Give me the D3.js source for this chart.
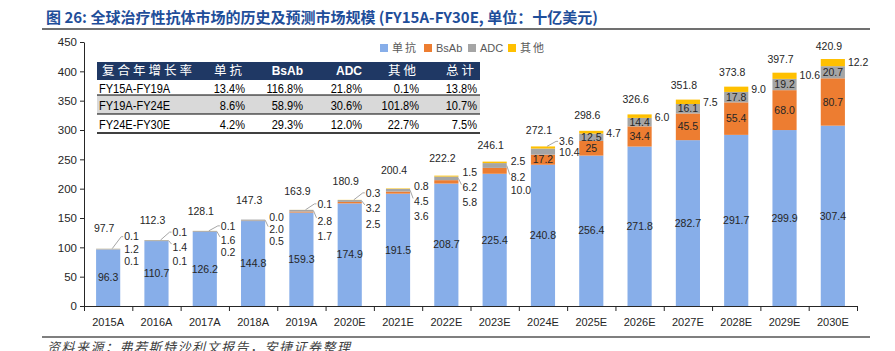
<!DOCTYPE html>
<html>
<head>
<meta charset="utf-8">
<script src="https://cdn.jsdelivr.net/npm/d3@7"></script>
<style>
  body { margin: 0; background: #fff; }
  svg { display: block; }
</style>
</head>
<body>
<div id="chart"></div>
<script>
// Data (values kept as printed so labels match the source)
const years = ["2015A", "2016A", "2017A", "2018A", "2019A", "2020E", "2021E", "2022E",
  "2023E", "2024E", "2025E", "2026E", "2027E", "2028E", "2029E", "2030E"];
const mab = ["96.3", "110.7", "126.2", "144.8", "159.3", "174.9", "191.5", "208.7",
  "225.4", "240.8", "256.4", "271.8", "282.7", "291.7", "299.9", "307.4"];
const bsab = ["0.1", "0.1", "0.2", "0.5", "1.7", "2.5", "3.6", "5.8",
  "10.0", "17.2", "25", "34.4", "45.5", "55.4", "68.0", "80.7"];
const adc = ["1.2", "1.4", "1.6", "2.0", "2.8", "3.2", "4.5", "6.2",
  "8.2", "10.4", "12.5", "14.4", "16.1", "17.8", "19.2", "20.7"];
const other = ["0.1", "0.1", "0.1", "0.0", "0.1", "0.3", "0.8", "1.5",
  "2.5", "3.6", "4.7", "6.0", "7.5", "9.0", "10.6", "12.2"];
const totals = ["97.7", "112.3", "128.1", "147.3", "163.9", "180.9", "200.4", "222.2",
  "246.1", "272.1", "298.6", "326.6", "351.8", "373.8", "397.7", "420.9"];

const seriesKeys = ["mab", "bsab", "adc", "other"];
const seriesNames = ["单抗", "BsAb", "ADC", "其他"];
const seriesColors = ["#87aee9", "#ed7d31", "#a5a5a5", "#ffc000"];
const yTicks = [0, 50, 100, 150, 200, 250, 300, 350, 400, 450];

// CAGR table
const cagrHeader = ["复合年增长率", "单抗", "BsAb", "ADC", "其他", "总计"];
const cagrPeriods = ["FY15A-FY19A", "FY19A-FY24E", "FY24E-FY30E"];
const cagrMab = ["13.4%", "8.6%", "4.2%"];
const cagrBsab = ["116.8%", "58.9%", "29.3%"];
const cagrAdc = ["21.8%", "30.6%", "12.0%"];
const cagrOther = ["0.1%", "101.8%", "22.7%"];
const cagrTotal = ["13.8%", "10.7%", "7.5%"];

// label placement for the small segments of early bars (offset from bar top)
const sideOffsets = [
  [-12, 1, 13], [-8, 7, 21], [-5, 9, 21], [-2, 10, 22], [-6, 11, 26],
  [-7, 8, 24], [-2, 13, 28], [-3, 12, 27], [0, 16, 29], [-5, 6, null]
];

const W = 895, H = 351;
const font = "'Liberation Sans', Arial, sans-serif";
const cjk = "'Noto Sans CJK SC', 'Liberation Sans', sans-serif";
const textColor = "#262626";

const svg = d3.select("#chart").append("svg")
  .attr("width", W).attr("height", H);

// Title
svg.append("text")
  .attr("x", 46).attr("y", 23)
  .style("font-family", cjk)
  .style("font-size", "15px")
  .style("font-weight", "700")
  .style("fill", "#1f4e9a")
  .text("图 26: 全球治疗性抗体市场的历史及预测市场规模 (FY15A-FY30E, 单位：十亿美元)");

svg.append("line")
  .attr("x1", 42).attr("x2", 870).attr("y1", 29).attr("y2", 29)
  .attr("stroke", "#404040").attr("stroke-width", 1.5);

// Scales
const x = d3.scaleBand().domain(years).range([84, 857])
  .paddingInner(0.5).paddingOuter(0.25);
const y = d3.scaleLinear().domain([0, 450]).range([306, 42]);
const bound = d3.scaleLinear().domain([0, years.length]).range([84, 857]);

const rows = years.map((yr, i) => ({
  year: yr, mab: +mab[i], bsab: +bsab[i], adc: +adc[i], other: +other[i]
}));
const stacked = d3.stack().keys(seriesKeys)(rows);

// Bars
svg.append("g").selectAll("g")
  .data(stacked)
  .join("g")
  .attr("fill", (d, i) => seriesColors[i])
  .selectAll("rect")
  .data(d => d)
  .join("rect")
  .attr("x", d => x(d.data.year))
  .attr("width", x.bandwidth())
  .attr("y", d => y(d[1]))
  .attr("height", d => Math.max(0, y(d[0]) - y(d[1])));

// Y axis
const yAxis = svg.append("g")
  .attr("transform", "translate(84,0)")
  .call(d3.axisLeft(y).tickValues(yTicks).tickSize(4).tickSizeOuter(0));
yAxis.select(".domain").attr("stroke", "#262626");
yAxis.selectAll(".tick line").attr("stroke", "#262626");
yAxis.selectAll("text")
  .style("font-family", font).style("font-size", "11.5px").style("fill", textColor);

// X axis: boundary ticks + labels
const xAxis = svg.append("g")
  .attr("transform", "translate(0,306)")
  .call(d3.axisBottom(bound).tickValues(d3.range(years.length + 1))
    .tickFormat("").tickSize(5).tickSizeOuter(0));
xAxis.select(".domain").attr("stroke", "#262626");
xAxis.selectAll(".tick line").attr("stroke", "#262626");

const xLabels = svg.append("g")
  .attr("transform", "translate(0,306)")
  .call(d3.axisBottom(x).tickSize(0).tickPadding(12));
xLabels.select(".domain").remove();
xLabels.selectAll("text")
  .style("font-family", font).style("font-size", "11px").style("fill", textColor);

// Labels
const labels = svg.append("g")
  .style("font-family", font)
  .style("font-size", "10.5px")
  .style("fill", textColor);
const leaders = svg.append("g")
  .attr("fill", "none").attr("stroke", "#a6a6a6").attr("stroke-width", 1);

function addLabel(tx, ty, str, anchor) {
  labels.append("text")
    .attr("x", tx).attr("y", ty).attr("dy", "0.35em")
    .attr("text-anchor", anchor)
    .text(str);
}

years.forEach((yr, i) => {
  const cx = x(yr) + x.bandwidth() / 2;
  const right = x(yr) + x.bandwidth();
  const tot = +totals[i];
  const top = y(tot);
  const r = rows[i];

  // total above bar
  const off = 20 - 7 * (tot - 97) / (421 - 97);
  addLabel(cx - 4, top - off, totals[i], "middle");

  // mAb inside
  addLabel(cx, (y(0) + y(r.mab)) / 2, mab[i], "middle");

  const lx = right + 4;
  if (i < sideOffsets.length) {
    const [oOff, aOff, bOff] = sideOffsets[i];
    // other
    const oy = top + oOff;
    addLabel(lx, oy, other[i], "start");
    if (oy < top - 3) {
      leaders.append("polyline")
        .attr("points", [[cx + 4, top], [right + 1, oy], [lx - 1, oy]].map(p => p.join(",")).join(" "));
    }
    // ADC
    const ay = top + aOff;
    const aMid = (y(r.mab + r.bsab) + y(r.mab + r.bsab + r.adc)) / 2;
    addLabel(lx, ay, adc[i], "start");
    if (ay - aMid > 6) {
      leaders.append("line")
        .attr("x1", right).attr("y1", aMid)
        .attr("x2", lx - 1).attr("y2", ay - 3);
    }
    // BsAb
    if (bOff !== null) {
      addLabel(lx, top + bOff, bsab[i], "start");
    } else {
      addLabel(cx, (y(r.mab) + y(r.mab + r.bsab)) / 2, bsab[i], "middle");
    }
  } else {
    addLabel(cx, (y(r.mab) + y(r.mab + r.bsab)) / 2, bsab[i], "middle");
    addLabel(cx, (y(r.mab + r.bsab) + y(r.mab + r.bsab + r.adc)) / 2, adc[i], "middle");
    addLabel(right + 3, top + 3, other[i], "start");
  }
});

// Legend
const legendX = [380, 424, 468, 508];
const legend = svg.append("g");
seriesNames.forEach((name, i) => {
  legend.append("rect")
    .attr("x", legendX[i]).attr("y", 44)
    .attr("width", 8).attr("height", 8)
    .attr("fill", seriesColors[i]);
  legend.append("text")
    .attr("x", legendX[i] + 12).attr("y", 48).attr("dy", "0.35em")
    .style("font-family", i === 0 || i === 3 ? cjk : font)
    .style("font-size", "11px")
    .style("letter-spacing", i === 0 || i === 3 ? "2px" : "0px")
    .style("fill", "#595959")
    .text(name);
});

// CAGR table
const tbl = svg.append("g");
const tLeft = 97, tRight = 480;
const colRight = [245, 303, 362, 419, 477];
tbl.append("rect")
  .attr("x", tLeft).attr("y", 62).attr("width", tRight - tLeft).attr("height", 18)
  .attr("fill", "#1f3864");
tbl.append("rect")
  .attr("x", tLeft).attr("y", 95).attr("width", tRight - tLeft).attr("height", 19)
  .attr("fill", "#d9d9d9");
[[95, 1], [114, 1], [133, 1.5]].forEach(([ly, w]) => {
  tbl.append("line")
    .attr("x1", tLeft).attr("x2", tRight).attr("y1", ly).attr("y2", ly)
    .attr("stroke", "#000").attr("stroke-width", w);
});

cagrHeader.forEach((h, j) => {
  const isCjk = /[\u4e00-\u9fff]/.test(h);
  tbl.append("text")
    .attr("x", j === 0 ? tLeft + 5 : colRight[j - 1])
    .attr("y", 71).attr("dy", "0.35em")
    .attr("text-anchor", j === 0 ? "start" : "end")
    .style("font-family", isCjk ? cjk : font)
    .style("font-size", isCjk ? "12.5px" : "12px")
    .style("font-weight", isCjk ? "400" : "700")
    .style("letter-spacing", isCjk ? "3px" : "0px")
    .style("fill", "#fff")
    .text(h);
});

// condensed body text (source uses a narrow font)
function cell(tx, ty, str, anchor) {
  tbl.append("text")
    .attr("transform", `translate(${tx},${ty}) scale(0.85,1)`)
    .attr("dy", "0.35em")
    .attr("text-anchor", anchor)
    .style("font-family", font)
    .style("font-size", "13px")
    .style("fill", "#000")
    .text(str);
}

const cagrCols = [cagrMab, cagrBsab, cagrAdc, cagrOther, cagrTotal];
const rowY = [88, 105, 124];
cagrPeriods.forEach((p, r) => {
  cell(tLeft + 2, rowY[r], p, "start");
  cagrCols.forEach((col, j) => cell(colRight[j], rowY[r], col[r], "end"));
});

// Footer
svg.append("line")
  .attr("x1", 42).attr("x2", 870).attr("y1", 337).attr("y2", 337)
  .attr("stroke", "#7f7f7f").attr("stroke-width", 2);
svg.append("text")
  .attr("x", 47).attr("y", 352)
  .style("font-family", cjk)
  .style("font-size", "13px")
  .style("font-style", "italic")
  .style("letter-spacing", "1.5px")
  .style("fill", "#404040")
  .text("资料来源：弗若斯特沙利文报告，安捷证券整理");
</script>
</body>
</html>
